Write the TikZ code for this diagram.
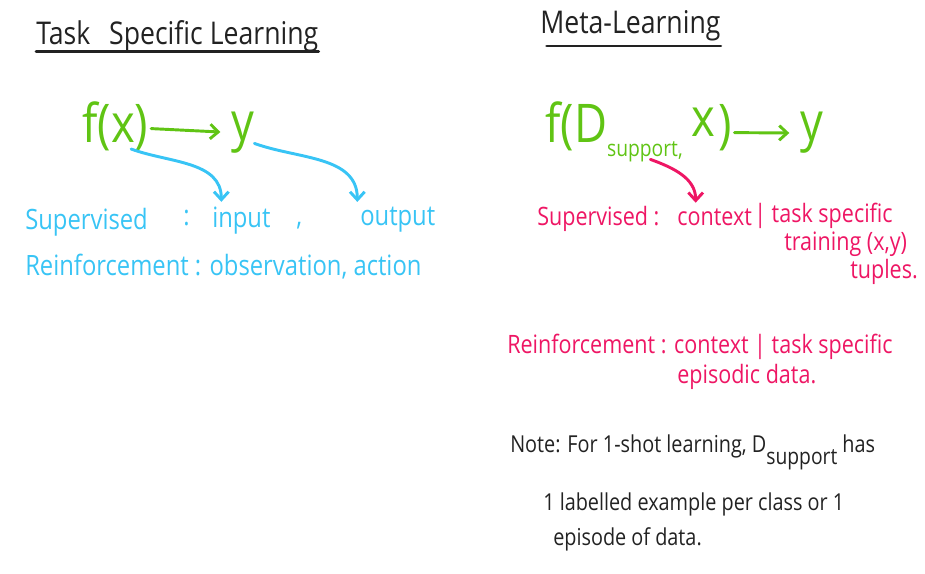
\documentclass[tikz,border=0pt]{standalone}
\usepackage{fontspec}
\setmainfont{Open Sans}[FakeStretch=0.85]
\usetikzlibrary{arrows.meta}
\definecolor{handgreen}{RGB}{96,196,20}
\definecolor{handblue}{RGB}{56,196,245}
\definecolor{handpink}{RGB}{238,22,100}
\definecolor{handblack}{RGB}{34,34,34}
\newcommand{\lowsub}[2]{\raisebox{-#1}{\fontsize{17}{19}\selectfont #2}}

\begin{document}
\begin{tikzpicture}[
  x=0.75pt, y=-0.75pt,
  >={Straight Barb[length=6pt,width=11pt]},
  title/.style={
    anchor=base west,
    inner sep=0pt,
    text=handblack,
    font=\fontsize{23.5}{28}\selectfont
  },
  underline/.style={line width=2.2pt, draw=handblack, line cap=round},
  formula/.style={
    anchor=base west,
    inner sep=0pt,
    text=handgreen,
    font=\fontsize{40}{46}\selectfont
  },
  taskline/.style={
    anchor=base west,
    inner sep=0pt,
    text=handblue,
    font=\fontsize{21}{25}\selectfont
  },
  metaline/.style={
    anchor=base west,
    inner sep=0pt,
    text=handpink,
    font=\fontsize{19}{23}\selectfont
  },
  noteline/.style={
    anchor=base west,
    inner sep=0pt,
    text=handblack,
    font=\fontsize{17.5}{21}\selectfont
  },
  greenarrow/.style={->, draw=handgreen, line width=2.2pt, line cap=round,
    shorten <=2pt, shorten >=8pt},
  bluearrow/.style={->, draw=handblue, line width=2.2pt, line cap=round},
  pinkarrow/.style={->, draw=handpink, line width=2.2pt, line cap=round}
]
\useasboundingbox (0,0) rectangle (925,574);

\node[title] (tasktitle) at (36,45) {Task\hspace{0.6em}Specific Learning};
\node[title] (metatitle) at (540,34) {Meta-Learning};
\draw[underline] ([yshift=-5pt]tasktitle.base west) -- ([yshift=-5pt]tasktitle.base east);
\draw[underline] ([xshift=5pt,yshift=-9pt]metatitle.base west) -- ([yshift=-9pt]metatitle.base east);

\node[formula] (fx) at (82,143) {f(x)};
\node[formula] (yout) at (231,141) {y};
\draw[greenarrow] (fx) -- (yout);

\node[taskline] (tsup) at (25,229) {Supervised};
\node[taskline] (tsupc) at (183,226) {:};
\node[taskline] (tin) at (212,228) {input};
\node[taskline] (tcomma) at (296,226) {,};
\node[taskline] (tout) at (360,226) {output};
\node[taskline] (trein) at (25,275) {Reinforcement : observation, action};

\coordinate (xfoot) at ([xshift=-13pt,yshift=2pt]fx.south east);
\coordinate (yfoot) at ([yshift=8pt]yout.south east);
\draw[bluearrow] (xfoot) to[out=-20, in=90] ([xshift=7pt,yshift=4pt]tin.north west);
\draw[bluearrow] (yfoot) to[out=-20, in=90] ([xshift=-2pt,yshift=4pt]tout.north west);

\node[formula] (mfun) at (545,143) {f(D\lowsub{10pt}{support,}\,\raisebox{5pt}{x}\kern2pt)};
\node[formula] (myout) at (800,141) {y};
\draw[greenarrow] (mfun) -- (myout);

\node[metaline] (msup) at (537,226) {Supervised :};
\node[metaline] (mctx) at (677,225) {context};
\node[metaline] (mtask) at (754,223) {| task specific};
\node[metaline] (mtrain) at (784,251) {training (x,y)};
\node[metaline] (mtuple) at (850,278) {tuples.};

\coordinate (suppfoot) at ([xshift=9pt,yshift=2pt]mfun.south);
\draw[pinkarrow] (suppfoot) to[out=-20, in=90] ([xshift=14pt,yshift=4pt]mctx.north west);

\node[metaline] (mrein) at (507,353) {Reinforcement : context | task specific};
\node[metaline] (mepis) at (677,383) {episodic data.};

\node[noteline] (note) at (510,452) {Note: For 1-shot learning, D\lowsub{9pt}{support} has};
\node[noteline] (notetwo) at (543,510) {1 labelled example per class or 1};
\node[noteline] (notethree) at (553,545) {episode of data.};

\end{tikzpicture}
\end{document}
